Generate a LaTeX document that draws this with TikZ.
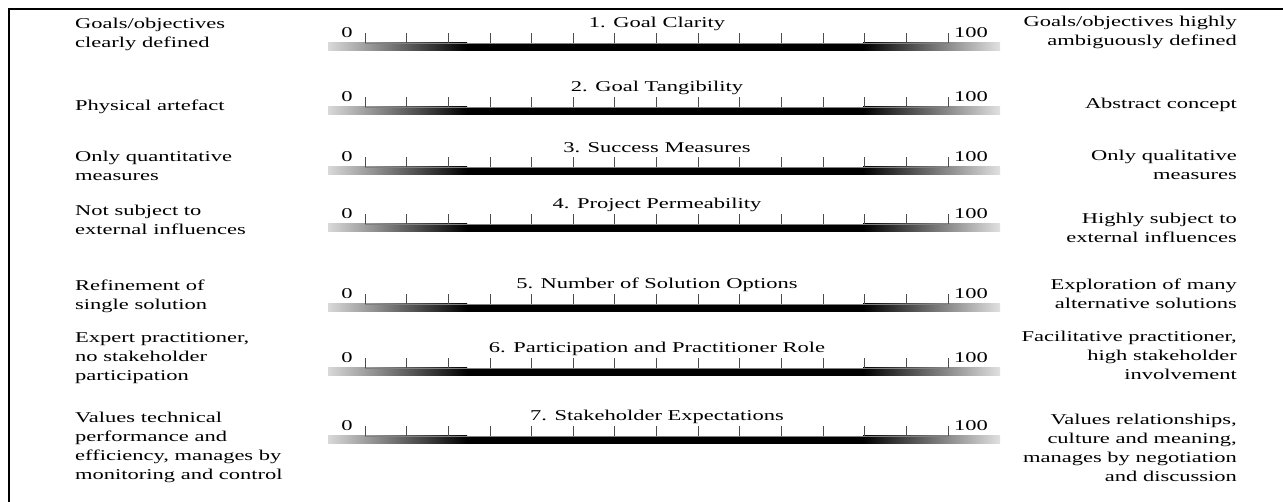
\documentclass[tikz,border=0pt]{standalone}
\usepackage{fontspec}
\setmainfont{Liberation Serif}[FakeStretch=1.5]
\usepackage{tikz}
\usetikzlibrary{positioning}
\tikzset{
  side/.style     = {inner sep=0pt, align=left, font=\fontsize{15}{19}\selectfont},
  sider/.style    = {side, align=right},
  num/.style      = {inner sep=0pt, font=\fontsize{15}{18}\selectfont},
  tickmark/.style = {draw=black!70, line width=0.8pt},
  frame/.style    = {line width=1.4pt},
}

\begin{document}
\begin{tikzpicture}[x=1pt, y=-1pt]
  \useasboundingbox (0,0) rectangle (1283,502);

  % frame
  \draw[frame] (9,502) -- (9,9) -- (1283,9);

  % rulers
  \foreach \i/\y/\ttl in {1/47/{1. Goal Clarity},
                          2/111/{2. Goal Tangibility},
                          3/171/{3. Success Measures},
                          4/228/{4. Project Permeability},
                          5/308/{5. Number of Solution Options},
                          6/372/{6. Participation and Practitioner Role},
                          7/440/{7. Stakeholder Expectations}} {
    \shade[left color=black!15, right color=black] (328,\y-4) rectangle (467,\y+4);
    \fill[black] (467,\y-4) rectangle (863,\y+4);
    \shade[left color=black, right color=black!12] (863,\y-4) rectangle (1000,\y+4);
    \draw[black!50] (365,\y-4) -- (948,\y-4);
    \foreach \k in {0,...,14}
      \draw[tickmark] (365+41.64*\k,\y-4) -- ++(0,-10);
    \node[num] (z\i) at (347,\y-14) {0};
    \node[num] (h\i) at (971,\y-14) {100};
    \node[num] (t\i) at (657,\y-23) {\ttl};
  }

  % left ends
  \node[side, anchor=west] (l1) at (75,34)  {Goals/objectives\\clearly defined};
  \node[side, anchor=west] (l2) at (75,107) {Physical artefact};
  \node[side, anchor=west] (l3) at (75,166) {Only quantitative\\measures};
  \node[side, anchor=west] (l4) at (75,220) {Not subject to\\external influences};
  \node[side, anchor=west] (l5) at (75,296) {Refinement of\\single solution};
  \node[side, anchor=west] (l6) at (75,358) {Expert practitioner,\\no stakeholder\\participation};
  \node[side, anchor=west] (l7) at (75,447) {Values technical\\performance and\\efficiency, manages by\\monitoring and control};

  % right ends
  \node[sider, anchor=east] (r1) at (1237,32)  {Goals/objectives highly\\ambiguously defined};
  \node[sider, anchor=east] (r2) at (1237,105) {Abstract concept};
  \node[sider, anchor=east] (r3) at (1237,165) {Only qualitative\\measures};
  \node[sider, anchor=east] (r4) at (1237,228) {Highly subject to\\external influences};
  \node[sider, anchor=east] (r5) at (1237,294) {Exploration of many\\alternative solutions};
  \node[sider, anchor=east] (r6) at (1237,355) {Facilitative practitioner,\\high stakeholder\\involvement};
  \node[sider, anchor=east] (r7) at (1237,448) {Values relationships,\\culture and meaning,\\manages by negotiation\\and discussion};

\end{tikzpicture}
\end{document}
